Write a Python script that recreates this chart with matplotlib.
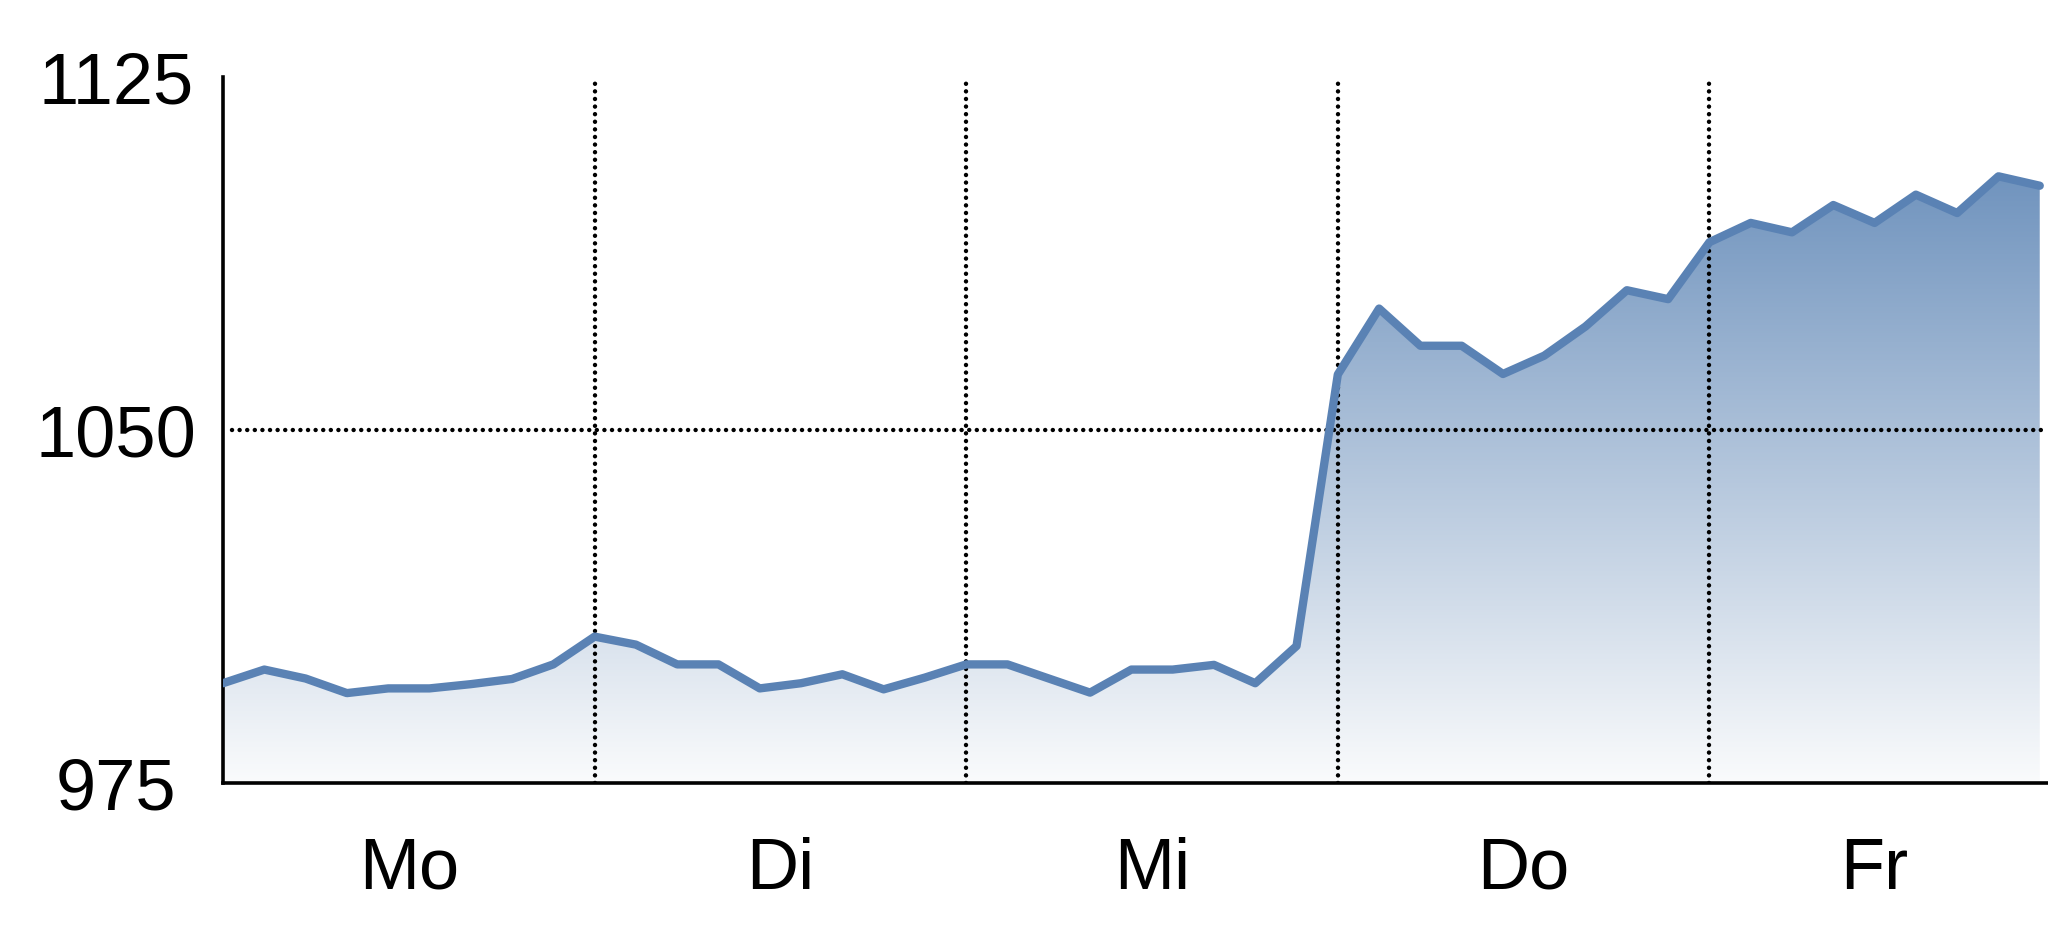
import matplotlib
matplotlib.use("Agg")
import matplotlib.pyplot as plt
import numpy as np
from matplotlib.colors import LinearSegmentedColormap

plt.rcParams['font.family'] = ['Liberation Sans', 'DejaVu Sans']

# 1. Data: 9 steps per day, Mo..Fr
days = ['Mo', 'Di', 'Mi', 'Do', 'Fr']
day_starts = [0, 9, 18, 27, 36]
day_label_pos = [4.5, 13.5, 22.5, 31.5, 40]
values = [
    996.2, 999.1, 997.2, 994.1, 995.1, 995.1, 996.0, 997.1, 1000.2,   # Mo
    1006.1, 1004.4, 1000.2, 1000.2, 995.1, 996.2, 998.1, 994.9, 997.4,  # Di
    1000.2, 1000.2, 997.2, 994.2, 999.1, 999.1, 1000.1, 996.2, 1004.1,  # Mi
    1061.8, 1075.8, 1067.9, 1067.9, 1061.9, 1065.8, 1072.0, 1079.7, 1077.8,  # Do
    1089.9, 1094.0, 1092.0, 1097.8, 1094.0, 1100.0, 1096.1, 1103.9, 1101.9,  # Fr
]
y_ticks = [975, 1050, 1125]

x = np.arange(len(values))
y = np.array(values)

# 2. Plot
W, H = 2048, 937
fig = plt.figure(figsize=(W / 100, H / 100), dpi=100)
ax = fig.add_axes([223 / W, (H - 784) / H, (W - 223) / W, (784 - 78) / H])
ax.set_xlim(0, 44.2)
ax.set_ylim(975, 1125)

# gradient fill under the line
cmap = LinearSegmentedColormap.from_list('fade', ['#fafbfc', '#5a83b4'])
grad = np.linspace(0, 1, 256).reshape(-1, 1)
img = ax.imshow(grad, cmap=cmap, aspect='auto', origin='lower',
                extent=[0, 44, 975, 1125], zorder=1)
poly = ax.fill_between(x, y, 975, color='none', lw=0)
clip = poly.get_paths()[0]
img.set_clip_path(clip, transform=ax.transData)

ax.plot(x, y, color='#5a82b4', lw=6, solid_joinstyle='round',
        solid_capstyle='round', zorder=3)

# dotted grid
dots = dict(color='black', lw=3.2, linestyle=(0, (0.01, 1.7)),
            dash_capstyle='round', zorder=2)
for d in day_starts[1:]:
    ax.axvline(d, **dots)
ax.axhline(1050, xmin=0.005, **dots)

for s in ['top', 'right']:
    ax.spines[s].set_visible(False)
for s in ['left', 'bottom']:
    ax.spines[s].set_linewidth(2.6)

ax.set_yticks(y_ticks)
ax.set_yticklabels([str(v) for v in y_ticks])
ax.set_xticks(day_label_pos)
ax.set_xticklabels(days)
ax.tick_params(axis='y', length=0, pad=77, labelsize=52)
ax.tick_params(axis='x', length=0, pad=38, labelsize=52)
plt.setp(ax.get_yticklabels(), ha='center')

fig.savefig('out.png', dpi=100)
